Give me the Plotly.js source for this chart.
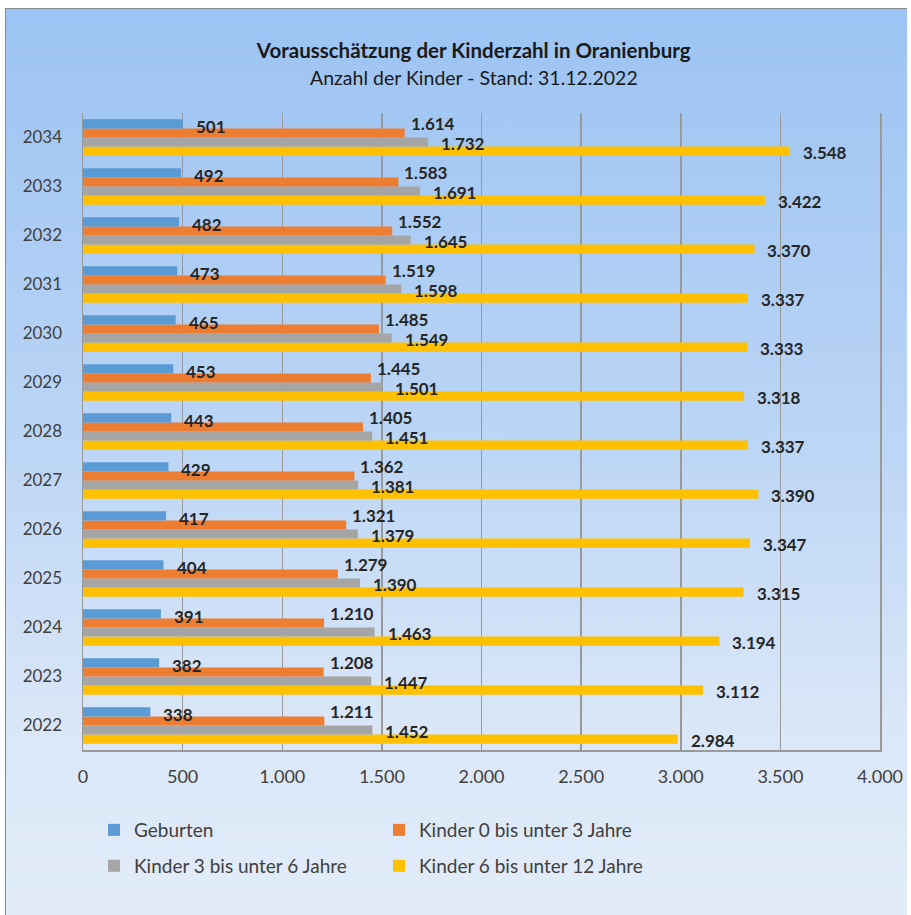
<!DOCTYPE html>
<html>
<head>
<meta charset="utf-8">
<script src="https://cdn.plot.ly/plotly-3.0.1.min.js"></script>
<style>
  html, body { margin: 0; padding: 0; background: #ffffff; }
  #frame {
    position: absolute; left: 5px; top: 8px; width: 902px; height: 907px;
    box-sizing: border-box; border-left: 1px solid #8a8a8a; border-top: 1px solid #8a8a8a;
    background: linear-gradient(to bottom, #9cc3f3 0%, #b9d4f5 45%, #dbe7f8 80%, #e2ecf9 100%);
  }
  #chart { position: absolute; left: 0; top: 0; width: 911px; height: 915px; }
</style>
</head>
<body>
<div id="frame"></div>
<div id="chart"></div>
<script>
const years = ['2022','2023','2024','2025','2026','2027','2028','2029','2030','2031','2032','2033','2034'];
const geburten = [338, 382, 391, 404, 417, 429, 443, 453, 465, 473, 482, 492, 501];
const kinder0bis3 = [1211, 1208, 1210, 1279, 1321, 1362, 1405, 1445, 1485, 1519, 1552, 1583, 1614];
const kinder3bis6 = [1452, 1447, 1463, 1390, 1379, 1381, 1451, 1501, 1549, 1598, 1645, 1691, 1732];
const kinder6bis12 = [2984, 3112, 3194, 3315, 3347, 3390, 3337, 3318, 3333, 3337, 3370, 3422, 3548];
const seriesNames = ['Geburten', 'Kinder 0 bis unter 3 Jahre', 'Kinder 3 bis unter 6 Jahre', 'Kinder 6 bis unter 12 Jahre'];
const xTicks = [0, 500, 1000, 1500, 2000, 2500, 3000, 3500, 4000];

const FONT = 'Lato, "Open Sans", sans-serif';
const colors = ['#5b9bd5', '#ed7d31', '#a5a5a5', '#ffc000'];
const values = [geburten, kinder0bis3, kinder3bis6, kinder6bis12];
const legendOf = ['legend', 'legend', 'legend2', 'legend2'];
// label placement relative to category centre (pixels)
const labelYShift = [11, 14, -6, -15];
const labelXShift = [11, 4, 11, 11];

function fmt(v) {
  const s = String(v);
  return s.length > 3 ? s.slice(0, s.length - 3) + '.' + s.slice(s.length - 3) : s;
}

const traces = [];
for (let i = 3; i >= 0; i--) {
  traces.push({
    type: 'bar', orientation: 'h',
    name: seriesNames[i], x: values[i], y: years,
    marker: { color: colors[i] },
    legend: legendOf[i],
    hoverinfo: 'x+name'
  });
}

const annotations = [{
  text: 'Anzahl der Kinder - Stand: 31.12.2022', xref: 'paper', yref: 'paper',
  x: 0.49, y: 1, yshift: 36, xanchor: 'center', yanchor: 'middle', showarrow: false,
  font: { family: FONT, size: 19.5, color: '#1a1a1a' }
}];
for (let i = 0; i < 4; i++) {
  for (let j = 0; j < years.length; j++) {
    annotations.push({
      x: values[i][j], y: j, xref: 'x', yref: 'y',
      text: '<b>' + fmt(values[i][j]) + '</b>', showarrow: false,
      xanchor: 'left', yanchor: 'middle',
      xshift: labelXShift[i], yshift: labelYShift[i],
      font: { family: FONT, size: 17, color: '#262626' }
    });
  }
}

const legendCommon = {
  orientation: 'h', x: 0.0138, xanchor: 'left', yanchor: 'middle',
  entrywidth: 240, entrywidthmode: 'pixels', bgcolor: 'rgba(0,0,0,0)',
  font: { family: FONT, size: 19, color: '#404040' }, itemwidth: 30, traceorder: 'reversed'
};

const layout = {
  width: 911, height: 915,
  paper_bgcolor: 'rgba(0,0,0,0)', plot_bgcolor: 'rgba(0,0,0,0)',
  separators: ',.',
  font: { family: FONT, size: 15, color: '#404040' },
  margin: { l: 83, r: 31, t: 113, b: 165 },
  barmode: 'group', bargap: 0.26, bargroupgap: 0,
  title: {
    text: '<b>Vorausschätzung der Kinderzahl in Oranienburg</b>',
    font: { family: FONT, size: 20.5, color: '#1a1a1a' },
    x: 0.52, xanchor: 'center', y: 0.945, yanchor: 'middle'
  },
  annotations: annotations,
  xaxis: {
    range: [0, 4000], tickvals: xTicks, tickformat: ',d',
    showgrid: true, gridcolor: '#9a9a9a', gridwidth: 1.5,
    zeroline: false, showline: true, linecolor: '#9a9a9a', linewidth: 1.5,
    ticks: '', ticklabelstandoff: 10,
    tickfont: { family: FONT, size: 18, color: '#404040' }
  },
  yaxis: {
    type: 'category', categoryorder: 'array', categoryarray: years,
    range: [-0.5, years.length - 0.5], autorange: false,
    showgrid: false, zeroline: false, showline: true, mirror: true,
    linecolor: '#9a9a9a', linewidth: 1.5, ticks: '', ticklabelstandoff: 16,
    tickfont: { family: FONT, size: 17, color: '#404040' }
  },
  showlegend: true,
  legend: Object.assign({}, legendCommon, { y: -0.1256 }),
  legend2: Object.assign({}, legendCommon, { y: -0.182 })
};

Plotly.newPlot('chart', traces, layout, { displayModeBar: false, staticPlot: true });
</script>
</body>
</html>
